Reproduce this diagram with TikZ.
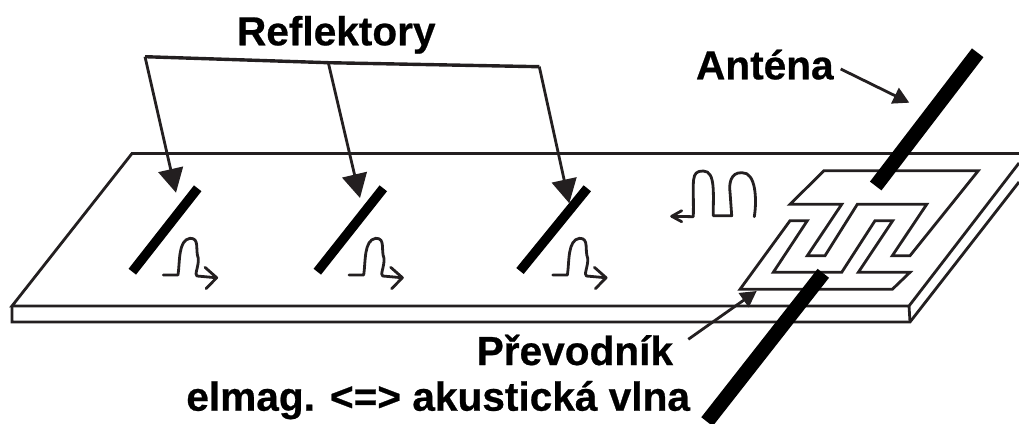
\documentclass[tikz,border=0pt]{standalone}
\usepackage{fontspec}
\setmainfont{Liberation Sans}[BoldFeatures={FakeBold=0.6}]
\usetikzlibrary{arrows.meta}
\definecolor{ink}{HTML}{231F20}
\tikzset{
  thinline/.style={draw=ink,line width=2.8pt,line join=miter},
  bar/.style={draw=black,line width=#1,line cap=butt},
  bar/.default=9.5pt,
  pulse/.style={draw=ink,line width=2.8pt,line join=round,line cap=round},
  headbig/.style={thinline,-{Triangle[length=24pt,width=25pt,fill=ink,sep=0pt]}},
  headsmall/.style={thinline,-{Triangle[length=16pt,width=17pt,fill=ink,sep=0pt]}},
  label/.style={inner sep=0pt,outer sep=0pt,text=black,font=\fontsize{40.6}{41}\selectfont\bfseries}
}
\begin{document}
\begin{tikzpicture}[x=1pt,y=-1pt]
\useasboundingbox (0,0) rectangle (1019,423);
% substrate
\draw[thinline] (1019,153.5) -- (132,153.5) -- (12,306) -- (909,306) -- (1019,163);
\draw[thinline] (12,306) -- (12,322) -- (910,322) -- (1019,182);
\draw[thinline] (909,306) -- (910,322);
% transducer combs
\draw[thinline] (824,170.7) -- (978.3,170.7) -- (910,255.7) -- (892.3,255.7) -- (926.7,204.3) -- (857.3,204.3) -- (825,255.7) -- (807.3,255.7) -- (841.7,204.3) -- (790,204.3) -- cycle;
\draw[thinline] (740,289.3) -- (790,220.7) -- (807.3,220.7) -- (773.3,272.3) -- (841.7,272.3) -- (875,220.7) -- (892.7,220.7) -- (858.3,272.3) -- (910,272.3) -- (892.3,289.3) -- cycle;
% reflectors
\coordinate (r1a) at (197.7,188.3); \coordinate (r1b) at (132.3,271.7);
\coordinate (r2a) at (383.3,188.3); \coordinate (r2b) at (317.3,271.7);
\coordinate (r3a) at (587.3,188.3); \coordinate (r3b) at (520,271);
\draw[bar] (r1a) -- (r1b);
\draw[bar] (r2a) -- (r2b);
\draw[bar] (r3a) -- (r3b);
% antenna
\coordinate (a1a) at (977.7,52.8); \coordinate (a1b) at (875.7,186);
\coordinate (a2a) at (823.3,273.3); \coordinate (a2b) at (707,421.7);
\draw[bar=14.5pt] (a1a) -- (a1b);
\draw[bar=14.5pt] (a2a) -- (a2b);
% labels
\node[label,anchor=base west] (refl) at (237,45.3) {Reflektory};
\node[label,anchor=base west] (ant) at (696,79.3) {Anténa};
\node[label,anchor=base east] (prev) at (673,365) {Převodník};
\node[label,anchor=base east] (elmag) at (690,410.7) {elmag. <=> akustická vlna};
% reflector arrows
\coordinate (t1) at (145,56.7); \coordinate (t2) at (328.3,62.7); \coordinate (t3) at (539.3,66.7);
\coordinate (h1) at (176,192.7); \coordinate (h2) at (360,198); \coordinate (h3) at (569.3,203.3);
\draw[thinline,line width=3.4pt] (t1) -- (t2) -- (t3);
\draw[headbig] (t1) -- (h1);
\draw[headbig] (t2) -- (h2);
\draw[headbig] (t3) -- (h3);
% other arrows
\coordinate (ta) at (840.7,69); \coordinate (ha) at (909.3,102.7);
\draw[headsmall] (ta) -- (ha);
\coordinate (tp) at (688.3,339.3); \coordinate (hp) at (756.7,291);
\draw[headsmall] (tp) -- (hp);
% small pulses
\foreach \dx in {0,185.7,389.4}{
\begin{scope}[xshift=\dx pt]
\draw[pulse] (163.3,275) -- (178,275) .. controls (180,262) and (178,240) .. (190,238.3) .. controls (200,238) and (195,250) .. (198.3,258.3) .. controls (199,266) and (194,275) .. (197,276) -- (216,277.7);
\draw[pulse] (205,267.3) -- (216.7,277.7) -- (206,288.7);
\end{scope}}
% large pulse
\draw[pulse] (754.3,216.7) .. controls (757,200) and (756,172) .. (742,172.7) .. controls (730,172) and (729,185) .. (730,192) -- (731.7,215.7) -- (713.3,215.7) .. controls (713,195) and (716,171) .. (703.3,171) .. controls (690,171) and (694,180) .. (693.3,216.7) -- (671.7,216.3);
\draw[pulse] (681.7,210.7) -- (671.7,216.3) -- (681.7,221.7);
\end{tikzpicture}
\end{document}
